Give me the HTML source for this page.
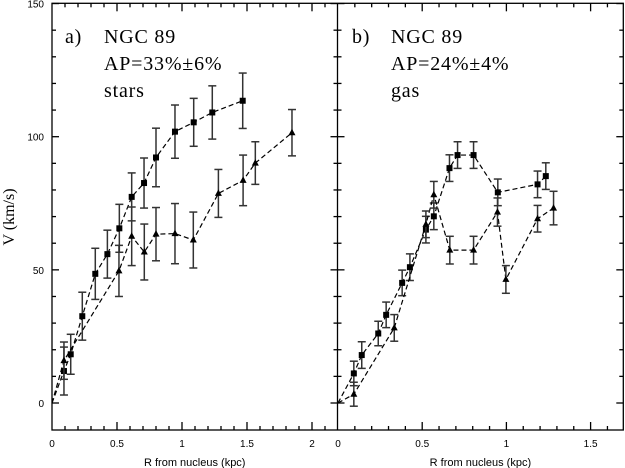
<!DOCTYPE html>
<html><head><meta charset="utf-8"><style>
html,body{margin:0;padding:0;background:#fff;}
svg{display:block;}
</style></head><body>
<svg id="chart" width="625" height="468" viewBox="0 0 625 468" xmlns="http://www.w3.org/2000/svg">
<g id="g"></g>
</svg>
<script>
// Panel a: stars
const aSqR = [0.092,0.144,0.233,0.333,0.426,0.518,0.613,0.708,0.80,0.946,1.09,1.233,1.467];
const aSqV = [12.0,18.3,32.6,48.5,55.9,65.6,77.4,82.6,92.2,101.9,105.4,109.1,113.5];
const aSqE = [9,7.5,9,9.6,9,9,9,9.4,11,10,9,10,10.4];
const aTrR = [0.092,0.515,0.613,0.71,0.80,0.946,1.087,1.28,1.47,1.564,1.846];
const aTrV = [15.9,49.6,62.6,56.7,63.4,63.6,61.2,78.7,83.6,90.1,101.5];
const aTrE = [7,9.6,11,10.5,10,11.3,10.5,9,9.5,8,8.7];
// Panel b: gas
const bSqR = [0.094,0.141,0.239,0.286,0.381,0.427,0.522,0.569,0.662,0.71,0.805,0.949,1.185,1.234];
const bSqV = [11.1,18.0,26.1,33.1,45.1,51.0,65.1,70.1,88.2,93.1,93.1,79.1,82.1,85.2];
const bSqE = [4.6,5,4.6,4.8,4.8,5,5,5,5,5,5,5,5,5];
const bTrR = [0.094,0.334,0.522,0.569,0.664,0.805,0.947,0.997,1.185,1.28];
const bTrV = [3.3,28.2,67.1,78.2,57.4,57.4,71.7,46.4,69.2,73.2];
const bTrE = [4.5,5,5,5,5.2,5.2,5.3,5.2,5,6.3];
const yTicks = [0,50,100,150];
const aXTicks = ["0","0.5","1","1.5","2"];
const bXTicks = ["0","0.5","1","1.5"];

const NS="http://www.w3.org/2000/svg";
const g=document.getElementById('g');
function el(t,a,p){const e=document.createElementNS(NS,t);for(const k in a)e.setAttribute(k,a[k]);(p||g).appendChild(e);return e;}
const TOP=3.3,BOT=430,Y0=403,YS=2.663;
const yS=v=>Y0-v*YS;
const panels=[
 {x0:52,sc:130,left:52,right:337.5,max:2.2,labels:aXTicks,name:'a'},
 {x0:338,sc:168.4,left:337.5,right:623.3,max:1.7,labels:bXTicks,name:'b'}
];
const ax=el('g',{});


const st={stroke:'#000','stroke-width':1.3,fill:'none'};
el('rect',Object.assign({x:52,y:TOP,width:623.3-52,height:BOT-TOP},st),ax);
el('line',Object.assign({x1:337.5,y1:TOP,x2:337.5,y2:BOT},st),ax);
for(let v=0;v<=150;v+=10){
  const y=yS(v),L=(v%50===0)?7:4;
  [52,337.5].forEach(x=>el('line',Object.assign({x1:x,y1:y,x2:x+L,y2:y},st),ax));
  [337.5,623.3].forEach(x=>el('line',Object.assign({x1:x-L,y1:y,x2:x,y2:y},st),ax));
}
yTicks.forEach(v=>{
  const t=el('text',{x:44,y:yS(v)+4,'text-anchor':'end','font-family':'Liberation Sans, sans-serif','font-size':10},ax);
  t.textContent=String(v);
  
  
});
panels.forEach(p=>{
  const xs=r=>p.x0+r*p.sc;
  for(let i=1;i*0.1<=p.max+1e-6;i++){
    const x=xs(i*0.1);if(x>=p.right-1)break;
    const L=(i%5===0)?8:4;
    el('line',Object.assign({x1:x,y1:BOT,x2:x,y2:BOT-L},st),ax);
    el('line',Object.assign({x1:x,y1:TOP,x2:x,y2:TOP+L},st),ax);
  }
  p.labels.forEach((lab,i)=>{
    const t=el('text',{x:xs(i*0.5),y:447,'text-anchor':'middle','font-family':'Liberation Sans, sans-serif','font-size':10},ax);
    t.textContent=lab;
    
    
  });
  const t=el('text',{x:(p.left+p.right)/2,y:466,'text-anchor':'middle','font-family':'Liberation Sans, sans-serif','font-size':11},ax);
  t.textContent='R from nucleus (kpc)';
  
  
});
const yt=el('text',{x:0,y:0,transform:'translate(14,217) rotate(-90)','text-anchor':'middle','font-family':'Liberation Serif, serif','font-size':16},ax);
yt.textContent='V (km/s)';



function series(p,R,V,E,marker,name){
  const xs=r=>p.x0+r*p.sc;
  const sg=el('g',{});
  
  
  let d='M'+xs(0)+','+yS(0);
  R.forEach((r,i)=>{d+=' L'+xs(r)+','+yS(V[i]);});
  el('path',{d:d,stroke:'#000','stroke-width':1.2,fill:'none','stroke-dasharray':'5,3'},sg);
  R.forEach((r,i)=>{
    const x=xs(r),y1=yS(V[i]+E[i]),y2=yS(V[i]-E[i]);
    const c={stroke:'#333','stroke-width':1.5};
    el('line',Object.assign({x1:x,y1:y1,x2:x,y2:y2},c),sg);
    el('line',Object.assign({x1:x-4,y1:y1,x2:x+4,y2:y1},c),sg);
    el('line',Object.assign({x1:x-4,y1:y2,x2:x+4,y2:y2},c),sg);
    const y=yS(V[i]);
    let m;
    if(marker==='sq') m=el('rect',{x:x-3,y:y-3,width:6,height:6,fill:'#000'},sg);
    else m=el('polygon',{points:`${x},${y-4} ${x-3.5},${y+2.5} ${x+3.5},${y+2.5}`,fill:'#000'},sg);
    
    
  });
}
series(panels[0],aSqR,aSqV,aSqE,'sq','stars-squares-series');
series(panels[0],aTrR,aTrV,aTrE,'tr','stars-triangles-series');
series(panels[1],bSqR,bSqV,bSqE,'sq','gas-squares-series');
series(panels[1],bTrR,bTrV,bTrE,'tr','gas-triangles-series');

function label(x,y,s,n){
  const t=el('text',{x:x,y:y,'font-family':'Liberation Serif, serif','font-size':20,'letter-spacing':'0.8'});
  t.textContent=s;
  
  
}
label(65,43,'a)','panel-a-letter');label(104,43,'NGC 89','panel-a-galaxy');
label(104,70,'AP=33%±6%','panel-a-ap');label(104,97,'stars','panel-a-component');
label(352,43,'b)','panel-b-letter');label(391,43,'NGC 89','panel-b-galaxy');
label(391,70,'AP=24%±4%','panel-b-ap');label(391,97,'gas','panel-b-component');
</script>
</body></html>
